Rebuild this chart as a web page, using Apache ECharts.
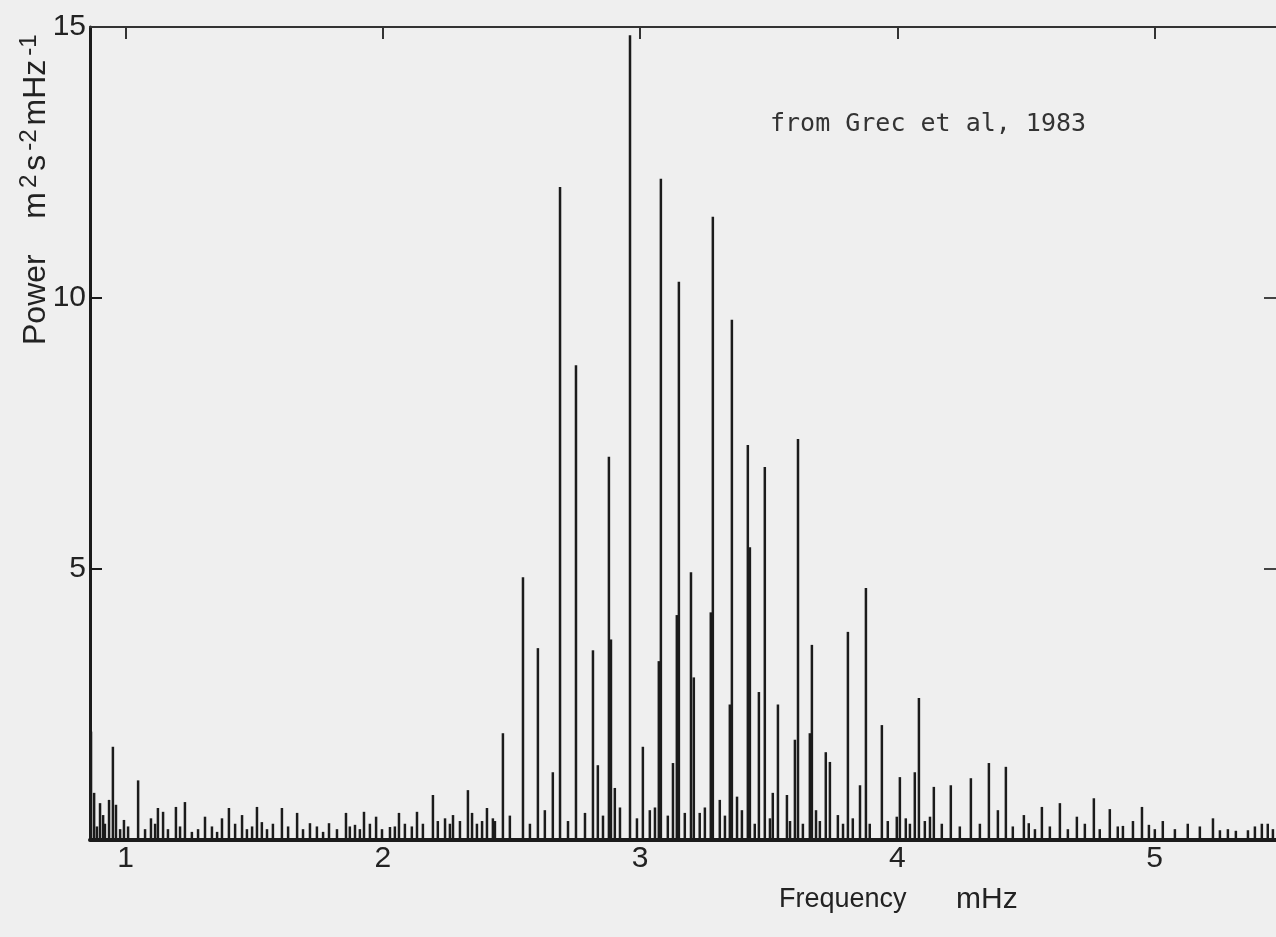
<!DOCTYPE html>
<html>
<head>
<meta charset="utf-8">
<title>Power spectrum, Grec et al 1983</title>
<script src="https://cdn.jsdelivr.net/npm/echarts@6/dist/echarts.min.js"></script>
<style>
  html, body { margin: 0; padding: 0; background: #efefef; }
  #chart { width: 1276px; height: 937px; }
</style>
</head>
<body>
<div id="chart"></div>
<script>
// frequency in mHz, power in m^2 s^-2 mHz^-1
const peakFreq = [
  0.866, 0.878, 0.901, 0.913, 0.936, 0.951, 0.963, 0.994, 1.049, 1.099,
  1.126, 1.146, 1.196, 1.231, 1.309, 1.375, 1.402, 1.453, 1.511, 1.530,
  1.608, 1.667, 1.717, 1.791, 1.857, 1.892, 1.927, 1.974, 2.028, 2.063,
  2.133, 2.195, 2.242, 2.273, 2.331, 2.347, 2.405, 2.467, 2.545, 2.603,
  2.661, 2.689, 2.751, 2.817, 2.836, 2.879, 2.887, 2.902, 2.961, 3.011,
  3.073, 3.081, 3.128, 3.143, 3.151, 3.198, 3.209, 3.275, 3.283, 3.310,
  3.349, 3.357, 3.377, 3.419, 3.427, 3.462, 3.485, 3.516, 3.536, 3.571,
  3.602, 3.614, 3.660, 3.668, 3.684, 3.722, 3.738, 3.769, 3.808, 3.827,
  3.855, 3.878, 3.940, 3.998, 4.010, 4.033, 4.068, 4.084, 4.127, 4.142,
  4.208, 4.286, 4.356, 4.391, 4.422, 4.492, 4.511, 4.562, 4.632, 4.698,
  4.764, 4.826, 4.877, 4.916, 4.951, 4.978, 5.032, 5.129, 5.227, 5.254,
  5.316, 5.363, 5.417, 5.440
];
const peakPower = [
  2.0, 0.87, 0.68, 0.46, 0.74, 1.72, 0.65, 0.37, 1.1, 0.4,
  0.59, 0.52, 0.61, 0.7, 0.43, 0.4, 0.59, 0.46, 0.61, 0.33,
  0.59, 0.5, 0.31, 0.31, 0.5, 0.28, 0.52, 0.43, 0.24, 0.5,
  0.52, 0.83, 0.4, 0.46, 0.92, 0.5, 0.59, 1.97, 4.85, 3.54,
  1.25, 12.05, 8.76, 3.5, 1.38, 7.07, 3.7, 0.96, 14.85, 1.72,
  3.3, 12.2, 1.42, 4.15, 10.3, 4.94, 3.0, 4.2, 11.5, 0.74,
  2.5, 9.6, 0.8, 7.29, 5.4, 2.73, 6.88, 0.87, 2.5, 0.83,
  1.85, 7.4, 1.97, 3.6, 0.55, 1.62, 1.44, 0.46, 3.84, 0.4,
  1.01, 4.65, 2.12, 0.43, 1.16, 0.4, 1.25, 2.62, 0.43, 0.98,
  1.01, 1.14, 1.42, 0.55, 1.35, 0.46, 0.31, 0.61, 0.68, 0.43,
  0.77, 0.57, 0.26, 0.35, 0.61, 0.28, 0.35, 0.3, 0.4, 0.18,
  0.17, 0.18, 0.3, 0.3
];
// small spikes along the baseline
const noiseFreq = [
  0.889, 0.920, 0.979, 1.010, 1.076, 1.115, 1.165, 1.212, 1.258, 1.282,
  1.336, 1.356, 1.426, 1.472, 1.492, 1.550, 1.573, 1.632, 1.690, 1.744,
  1.768, 1.822, 1.872, 1.911, 1.950, 1.997, 2.047, 2.086, 2.113, 2.156,
  2.214, 2.261, 2.300, 2.366, 2.386, 2.428, 2.436, 2.494, 2.572, 2.630,
  2.720, 2.786, 2.856, 2.922, 2.988, 3.038, 3.058, 3.108, 3.174, 3.232,
  3.252, 3.330, 3.396, 3.446, 3.505, 3.583, 3.633, 3.699, 3.789, 3.893,
  3.963, 4.049, 4.107, 4.173, 4.243, 4.321, 4.449, 4.535, 4.593, 4.663,
  4.729, 4.787, 4.857, 5.001, 5.079, 5.176, 5.285, 5.390, 5.460
];
const noisePower = [
  0.25, 0.3, 0.2, 0.25, 0.2, 0.3, 0.2, 0.25, 0.15, 0.2,
  0.25, 0.15, 0.3, 0.2, 0.25, 0.2, 0.3, 0.25, 0.2, 0.25,
  0.15, 0.2, 0.25, 0.2, 0.3, 0.2, 0.25, 0.3, 0.25, 0.3,
  0.35, 0.3, 0.35, 0.3, 0.35, 0.4, 0.35, 0.45, 0.3, 0.55,
  0.35, 0.5, 0.45, 0.6, 0.4, 0.55, 0.6, 0.45, 0.5, 0.5,
  0.6, 0.45, 0.55, 0.3, 0.4, 0.35, 0.3, 0.35, 0.3, 0.3,
  0.35, 0.3, 0.35, 0.3, 0.25, 0.3, 0.25, 0.2, 0.25, 0.2,
  0.3, 0.2, 0.25, 0.2, 0.2, 0.25, 0.2, 0.25, 0.2
];
const freqTicks = [1, 2, 3, 4, 5];
const powerLabels = [5, 10, 15];
const powerTicks = [5, 10];

const ink = '#1b1b1b';
const textFont = 'Liberation Sans';

const spikes = peakFreq.map((f, i) => [f, peakPower[i]])
  .concat(noiseFreq.map((f, i) => [f, noisePower[i]]));

const chart = echarts.init(document.getElementById('chart'), null, {
  width: 1276,
  height: 937,
  renderer: 'canvas',
  devicePixelRatio: 1,
});

const option = {
  backgroundColor: '#efefef',
  animation: false,
  grid: { left: 90, right: 0, top: 27, bottom: 97 },
  xAxis: [
    {
      type: 'value',
      min: 0.862,
      max: 5.472,
      position: 'bottom',
      axisLine: { show: true, onZero: false, lineStyle: { color: ink, width: 4 } },
      axisTick: { show: false },
      splitLine: { show: false },
      axisLabel: {
        customValues: freqTicks,
        margin: 4,
        fontSize: 30,
        fontFamily: textFont,
        color: '#222',
      },
    },
    {
      type: 'value',
      min: 0.862,
      max: 5.472,
      position: 'top',
      axisLine: { show: true, onZero: false, lineStyle: { color: '#333', width: 2 } },
      axisTick: { show: true, inside: true, length: 12, customValues: freqTicks, lineStyle: { color: '#333', width: 2 } },
      axisLabel: { show: false },
      splitLine: { show: false },
    },
  ],
  yAxis: [
    {
      type: 'value',
      min: 0,
      max: 15,
      position: 'left',
      axisLine: { show: true, onZero: false, lineStyle: { color: ink, width: 3 } },
      axisTick: { show: true, inside: true, length: 12, customValues: powerTicks, lineStyle: { color: ink, width: 2 } },
      splitLine: { show: false },
      axisLabel: {
        customValues: powerLabels,
        margin: 4,
        fontSize: 30,
        fontFamily: textFont,
        color: '#222',
      },
    },
    {
      type: 'value',
      min: 0,
      max: 15,
      position: 'right',
      axisLine: { show: false },
      axisTick: { show: true, inside: true, length: 12, customValues: powerTicks, lineStyle: { color: '#444', width: 2 } },
      axisLabel: { show: false },
      splitLine: { show: false },
    },
  ],
  series: [
    {
      type: 'bar',
      xAxisIndex: 0,
      yAxisIndex: 0,
      barWidth: 2.5,
      itemStyle: { color: ink },
      data: spikes,
    },
  ],
  graphic: [
    {
      type: 'text',
      x: 36,
      y: 345,
      rotation: Math.PI / 2,
      style: {
        text: '{p|Power    m}{s|2}{p|s}{s|-2}{p|mHz}{s|-1}',
        align: 'left',
        verticalAlign: 'middle',
        fill: '#222',
        rich: {
          p: { fontSize: 32, fontFamily: textFont, fill: '#222' },
          s: { fontSize: 24, fontFamily: textFont, fill: '#222', verticalAlign: 'top', padding: [0, 4, 14, 4] },
        },
      },
    },
    {
      type: 'text',
      x: 779,
      y: 900,
      style: {
        text: 'Frequency',
        fontSize: 27,
        fontFamily: textFont,
        fill: '#222',
        verticalAlign: 'middle',
      },
    },
    {
      type: 'text',
      x: 956,
      y: 900,
      style: {
        text: 'mHz',
        fontSize: 30,
        fontFamily: textFont,
        fill: '#222',
        verticalAlign: 'middle',
      },
    },
    {
      type: 'text',
      x: 770,
      y: 124,
      style: {
        text: 'from Grec et al, 1983',
        fontSize: 25,
        fontFamily: 'DejaVu Sans Mono',
        fill: '#333',
        verticalAlign: 'middle',
      },
    },
  ],
};

chart.setOption(option);
</script>
</body>
</html>
